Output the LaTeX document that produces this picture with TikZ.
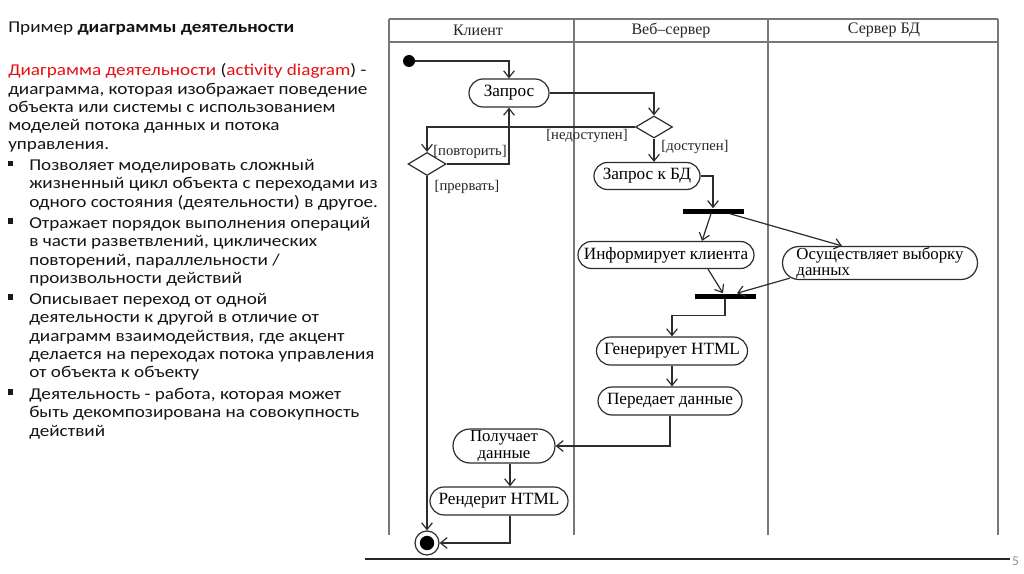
\documentclass[tikz,border=0pt]{standalone}
\usepackage{fontspec}
\setmainfont{Liberation Serif}
\newfontfamily\calfont[FakeStretch=1.16]{Carlito}
\newfontfamily\pgfont{Carlito}
\usetikzlibrary{shapes.misc,shapes.geometric,arrows.meta,calc}
\newdimen\pxu \pxu=0.75pt
\definecolor{redt}{RGB}{232,16,20}
\definecolor{lanec}{RGB}{120,120,120}
\definecolor{linec}{RGB}{45,45,45}
\begin{document}
\begin{tikzpicture}[x=0.75pt,y=-0.75pt,
  txt/.style={font=\calfont\fontsize{12.4}{14}\selectfont, anchor=base west, inner sep=0, text=black!92},
  bul/.style={rectangle, fill=black!90, minimum size=5.5\pxu, inner sep=0},
  act/.style={rounded rectangle, draw=linec, line width=0.9pt, inner xsep=0, inner ysep=0, minimum height=28\pxu, font=\fontsize{12.9}{13}\selectfont, text=black},
  dec/.style={diamond, draw=linec, line width=0.9pt, inner sep=0, aspect=1.7},
  bar/.style={rectangle, fill=black, inner sep=0, minimum height=5\pxu, minimum width=61\pxu},
  lbl/.style={font=\fontsize{11}{12}\selectfont, inner sep=0, text=black!85},
  hdr/.style={font=\fontsize{12}{13}\selectfont, inner sep=0, text=black!85},
  flow/.style={draw=linec, line width=0.9pt, -{Straight Barb[length=5pt,width=8pt]}},
  lane/.style={draw=lanec, line width=1.1pt}
]
\useasboundingbox (0,0) rectangle (1024,574);
\fill[white] (0,0) rectangle (1024,574);

% ---------- left text ----------
\node[txt] (t1) at (8,33) {Пример \textbf{диаграммы деятельности}};
\node[txt] (t2) at (8,76) {\textcolor{redt}{Диаграмма деятельности} (\textcolor{redt}{activity diagram}) -};
\node[txt] (t3) at (8,94.5) {диаграмма, которая изображает поведение};
\node[txt] (t4) at (8,113) {объекта или системы с использованием};
\node[txt] (t5) at (8,131) {моделей потока данных и потока};
\node[txt] (t6) at (8,149.5) {управления.};
\node[bul] (b1) at (10.5,163.5) {};
\node[txt] (t7) at (29,170.5) {Позволяет моделировать сложный};
\node[txt] (t8) at (29,189) {жизненный цикл объекта с переходами из};
\node[txt] (t9) at (29,207) {одного состояния (деятельности) в другое.};
\node[bul] (b2) at (10.5,221) {};
\node[txt] (t10) at (29,228) {Отражает порядок выполнения операций};
\node[txt] (t11) at (29,246.5) {в части разветвлений, циклических};
\node[txt] (t12) at (29,265) {повторений, параллельности /};
\node[txt] (t13) at (29,283) {произвольности действий};
\node[bul] (b3) at (10.5,297) {};
\node[txt] (t14) at (29,304) {Описывает переход от одной};
\node[txt] (t15) at (29,322.5) {деятельности к другой в отличие от};
\node[txt] (t16) at (29,341) {диаграмм взаимодействия, где акцент};
\node[txt] (t17) at (29,359) {делается на переходах потока управления};
\node[txt] (t18) at (29,377.5) {от объекта к объекту};
\node[bul] (b4) at (10.5,392) {};
\node[txt] (t19) at (29,399) {Деятельность - работа, которая может};
\node[txt] (t20) at (29,417) {быть декомпозирована на совокупность};
\node[txt] (t21) at (29,436) {действий};

% ---------- swimlanes ----------
\draw[lane] (389,19) -- (998,19);
\draw[lane] (389,42) -- (998,42);
\draw[lane] (389,19) -- (389,535);
\draw[lane] (574,19) -- (574,535);
\draw[lane] (768,19) -- (768,535);
\draw[lane] (998,19) -- (998,535);
\node[hdr] (h1) at (478,30) {Клиент};
\node[hdr] (h2) at (671,30) {Веб–сервер};
\node[hdr] (h3) at (884,30) {Сервер БД};

% ---------- nodes ----------
\node[circle, fill=black, minimum size=12\pxu, inner sep=0] (start) at (409,61) {};
\node[act, minimum width=80\pxu] (zapros) at (509,93) {Запрос};
\node[dec, minimum width=37\pxu, minimum height=22\pxu] (d1) at (654,127) {};
\node[dec, minimum width=38\pxu, minimum height=23\pxu] (d2) at (427,164) {};
\node[act, minimum width=106\pxu, minimum height=27\pxu] (zbd) at (647,176) {Запрос к БД};
\node[bar] (fork) at (713,211) {};
\node[act, minimum width=195\pxu, minimum height=33\pxu, align=left, font=\fontsize{12.6}{11.6}\selectfont] (osush) at (880,263) {Осуществляет выборку\\данных};
\node[act, minimum width=176\pxu, minimum height=27\pxu] (inform) at (666,255) {Информирует клиента};
\node[bar] (join) at (725,296) {};
\node[act, minimum width=151\pxu] (gen) at (672,351) {Генерирует HTML};
\node[act, minimum width=144\pxu] (per) at (670,401) {Передает данные};
\node[act, minimum width=102\pxu, minimum height=34\pxu, align=center, font=\fontsize{12.6}{12.4}\selectfont] (poluch) at (504,446) {Получает\\данные};
\node[act, minimum width=138\pxu] (render) at (499,501) {Рендерит HTML};
\node[circle, draw=linec, line width=0.9pt, minimum size=24\pxu, inner sep=0] (final) at (427,543) {};
\fill[black] (final.center) circle (5.4pt);

% ---------- guard labels ----------
\node[lbl] (lnd) at (587,136) {[недоступен]};
\node[lbl] (lpv) at (470,152) {[повторить]};
\node[lbl] (lpr) at (467,187) {[прервать]};
\node[lbl] (ld) at (695,147) {[доступен]};

% ---------- connectors ----------
\draw[flow] (start) -| (zapros);
\draw[flow] (zapros) -| (d1);
\draw[flow] (d1) -| (d2);
\draw[flow] (d2) -| (zapros);
\draw[flow] (d2) -- (final);
\draw[flow] (d1) -- (d1 |- zbd.north);
\draw[flow] (zbd) -| (fork);
\draw[flow] ($(fork.south)+(-2,0)$) -- ($(inform.north)+(36,0)$);
\draw[flow] ($(fork.south)+(17,0)$) -- ($(osush.north)+(-38,0)$);
\draw[flow] ($(inform.south)+(42,0)$) -- ($(join.north)+(-2,0)$);
\draw[flow] ($(osush.south)+(-90,-2)$) -- ($(join.north)+(12,0)$);
\draw[flow] (join.south) -- ++(0,17) -| (gen.north);
\draw[flow] (gen.south) -- (gen.south |- per.north);
\draw[flow] (per.south) |- (poluch.east);
\draw[flow] ($(poluch.south)+(6,0)$) -- ($(render.north)+(11,0)$);
\draw[flow] ($(render.south)+(11,0)$) |- (final.east);

% ---------- footer ----------
\draw[line width=1.5pt, black!85] (365,559) -- (1010,559);
\node[font=\pgfont\fontsize{10}{11}\selectfont, text=black!45, inner sep=0] (pg) at (1015.5,561) {5};
\end{tikzpicture}
\end{document}
